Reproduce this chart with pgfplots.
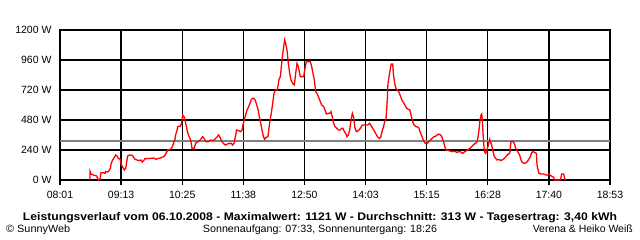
\documentclass[border=0pt]{standalone}
\usepackage{pgfplots}
\pgfplotsset{compat=1.18}
\usepackage{fontspec}
\setmainfont{Liberation Sans}
\usepackage{graphicx}
\definecolor{avggray}{RGB}{128,128,128}
\begin{document}
\begin{tikzpicture}[x=1pt,y=1pt]
\begin{axis}[
  at={(60pt,60pt)}, anchor=south west,
  scale only axis, width=550pt, height=150pt,
  xmin=481, xmax=1133, ymin=0, ymax=1200,
  xtick={481,553.444,625.889,698.333,770.778,843.222,915.667,988.111,1060.556,1133},
  xticklabels={08:01,09:13,10:25,11:38,12:50,14:03,15:15,16:28,17:40,18:53},
  minor x tick num=1,
  ytick={0,240,480,720,960,1200},
  yticklabels={0 W,240 W,480 W,720 W,960 W,1200 W},
  grid=both,
  major grid style={black, line width=1.4pt},
  minor grid style={black, line width=1.4pt},
  axis line style={black, line width=1.4pt},
  tick pos=left,
  tick align=outside,
  major tick length=5pt, minor tick length=5pt,
  xtick style={black, line width=1.4pt},
  ytick style={draw=none},
  tick label style={font=\fontsize{10.5}{12}\selectfont},
  xticklabel style={yshift=-3pt},
  clip=false,
]
\addplot[avggray, line width=1.3pt] coordinates {(481,313) (1133,313)};
\addplot[red, line width=1.3pt] coordinates {
(516.6,0) (516.7,67) (517.8,48) (520.5,40) (524.5,32) (525.7,11) (526.8,0) (528.4,5) (529.6,59) (532.4,59) (534.4,53) (535.1,69) (537.5,64) (539.1,75) (540.7,93) (541.5,128) (543.0,155) (545.4,181) (547.0,200) (548.6,192) (550.2,173) (552.5,165) (553.3,128) (554.9,107) (557.3,80) (558.9,93) (560.4,160) (561.2,192) (563.6,200) (566.8,197) (568.3,181) (569.9,165) (572.3,160) (574.7,155) (577.0,160) (578.6,144) (580.2,155) (581.8,171) (584.2,171) (588.1,173) (592.0,176) (595.2,165) (596.8,171) (600.0,176) (603.9,187) (605.5,197) (607.1,219) (608.6,240) (611.8,245) (614.2,267) (615.8,299) (617.3,325) (618.1,363) (619.7,395) (620.5,427) (623.7,432) (625.2,453)
(626.4,520) (628.0,507) (629.2,480) (630.4,440) (632.0,387) (634.3,341) (635.9,320) (637.5,253) (639.9,253) (642.2,299) (645.0,307) (647.8,325) (650.1,347) (651.7,333) (654.1,307) (656.8,307) (659.6,320) (662.0,315) (664.4,325) (666.7,341) (669.1,360) (670.7,341) (672.3,315) (674.6,293) (677.0,280) (679.4,288) (681.7,293) (684.1,293) (685.7,280) (687.3,293) (688.9,347) (690.4,400) (692.8,395) (695.2,387) (696.8,400) (698.3,453) (699.9,493) (701.5,533) (703.1,565) (704.7,587) (706.2,613) (707.8,645) (709.4,653) (711.0,653) (712.6,635) (714.2,600) (715.7,565) (717.3,507) (718.9,453) (720.5,400) (722.1,347) (723.6,325) (725.2,341) (727.6,347) (728.4,400) (730.0,480) (731.5,533) (733.1,613) (734.7,693) (736.3,720) (738.7,720)
(740.6,805) (742.2,827) (743.8,933) (744.6,987) (746.2,1067) (747.3,1121) (748.5,1093) (750.1,1040) (751.7,933) (753.3,853) (754.8,800) (757.2,768) (758.8,760) (760.4,853) (762.0,933) (763.5,907) (765.1,853) (765.9,827) (767.5,827) (769.9,827) (771.4,893) (773.0,947) (775.4,947) (777.8,947) (779.4,907) (780.9,853) (782.5,800) (784.1,707) (785.7,693) (787.3,667) (788.8,640) (791.2,600) (793.6,587) (795.2,560) (796.7,528) (799.1,533) (800.7,533) (802.3,547) (803.9,501) (805.4,453) (807.0,427) (809.4,413) (811.0,400) (813.3,400) (814.9,413) (816.5,413) (818.1,387) (819.7,373) (821.2,347) (822.8,360) (824.4,400) (826.0,480) (827.6,533) (829.1,501) (830.7,413) (832.3,387) (834.7,395) (837.1,413) (839.4,440) (842.6,440) (845.7,440) (848.1,453) (850.5,427) (852.9,400)
(854.8,379) (857.2,347) (859.6,333) (861.1,341) (862.7,387) (864.3,421) (865.9,467) (867.5,493) (869.0,640) (869.8,773) (871.4,840) (873.0,907) (873.8,928) (875.4,928) (876.2,853) (877.7,773) (879.3,733) (880.9,720) (882.5,707) (884.1,680) (885.6,653) (887.2,627) (888.8,613) (890.4,592) (892.0,573) (894.3,565) (895.9,560) (897.5,507) (899.1,467) (900.7,440) (903.0,427) (906.2,421) (907.8,387) (909.4,360) (910.9,333) (912.5,307) (914.1,293) (916.5,293) (918.1,307) (919.6,315) (922.0,333) (924.4,347) (926.7,352) (929.9,368) (932.3,360) (933.9,341) (936.2,293) (937.8,253) (939.4,240) (941.8,235) (943.3,232) (945.7,227) (947.3,229) (949.7,227) (952.0,219) (953.6,229) (956.0,224) (958.4,213) (960.7,227) (963.1,235)
(965.1,245) (967.1,253) (969.0,267) (971.0,280) (973.0,293) (975.0,299) (976.1,325) (977.7,400) (978.9,480) (980.1,520) (980.9,528) (981.7,480) (982.5,373) (983.3,293) (984.1,227) (985.6,213) (987.2,240) (988.8,280) (990.4,325) (991.2,307) (992.7,280) (994.3,227) (995.9,187) (997.5,173) (999.1,160) (1001.4,165) (1003.8,155) (1006.2,165) (1007.8,173) (1010.1,192) (1012.5,208) (1014.1,213) (1014.9,267) (1015.7,307) (1018.0,307) (1019.6,293) (1021.2,253) (1023.6,227) (1025.9,200) (1027.5,160) (1029.1,139) (1031.5,133) (1033.8,139) (1036.2,160) (1038.6,187) (1040.2,219) (1041.7,227) (1044.1,219) (1045.7,213) (1046.5,120) (1047.3,93) (1048.9,53) (1051.2,48) (1054.4,48) (1056.8,40) (1059.1,40) (1060.7,48) (1062.3,37) (1064.7,27) (1066.3,21) (1067.0,0) (1074.2,0) (1074.9,21) (1075.7,48) (1078.1,48) (1078.9,21) (1079.7,0)
};
\end{axis}
\node[anchor=base, inner sep=0pt] at (320,19) {\resizebox{594pt}{\height}{\fontsize{11}{13}\selectfont\bfseries Leistungsverlauf vom 06.10.2008 - Maximalwert: 1121 W - Durchschnitt: 313 W - Tagesertrag: 3,40 kWh}};
\node[anchor=base west, inner sep=0pt] at (6,7.3) {\resizebox{64pt}{\height}{\fontsize{10.5}{12}\selectfont © SunnyWeb}};
\node[anchor=base, inner sep=0pt] at (320,7.3) {\resizebox{234pt}{\height}{\fontsize{10.5}{12}\selectfont Sonnenaufgang: 07:33, Sonnenuntergang: 18:26}};
\node[anchor=base east, inner sep=0pt] at (633,7.3) {\resizebox{100pt}{\height}{\fontsize{10.5}{12}\selectfont Verena \& Heiko Weiß}};
\pgfresetboundingbox
\useasboundingbox (0,0) rectangle (640,240);
\end{tikzpicture}
\end{document}
